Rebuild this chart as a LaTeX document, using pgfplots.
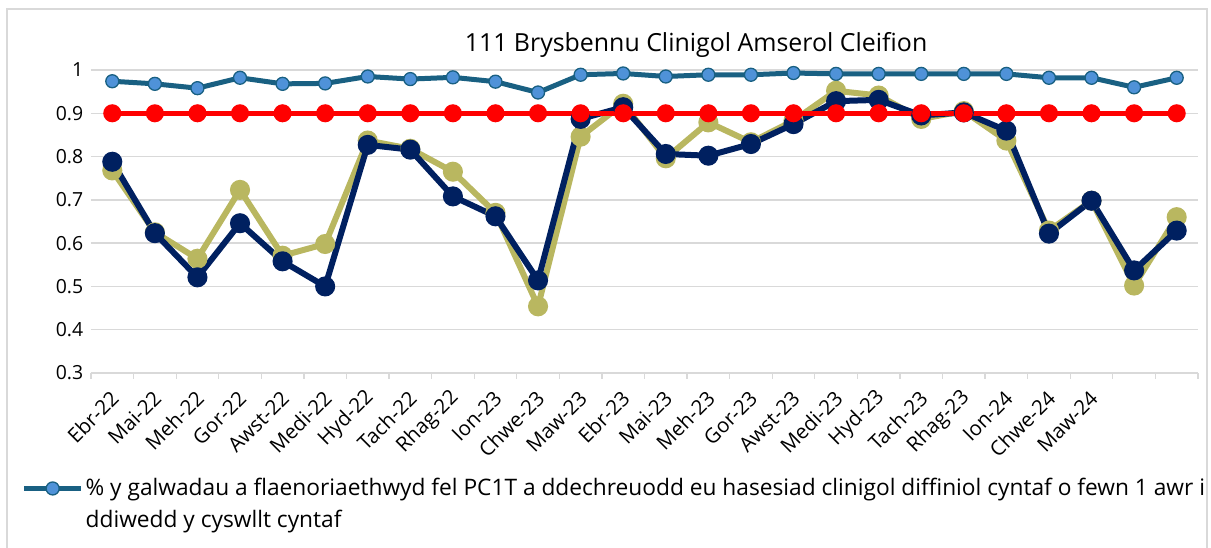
\documentclass[border=0pt]{standalone}
\usepackage{pgfplots}
\pgfplotsset{compat=1.18}
\usepackage{fontspec}
\setmainfont{Open Sans}
\definecolor{teal1}{RGB}{25,96,130}
\definecolor{bluefill}{RGB}{79,146,216}
\definecolor{olive1}{RGB}{185,183,96}
\definecolor{navy1}{RGB}{0,32,96}
\definecolor{gridc}{RGB}{217,217,217}
\begin{document}
\begin{tikzpicture}[x=1bp,y=1bp]
\path[use as bounding box] (-91,-175) rectangle (1120,373);
\draw[gridc, line width=1.5bp] (-84,-200) -- (-84,364) -- (1116,364) -- (1116,-200);
\node[anchor=base, font=\fontsize{25}{30}\selectfont] at (605,321) {111 Brysbennu Clinigol Amserol Cleifion};
\begin{axis}[
  at={(0,0)}, anchor=south west,
  scale only axis, width=1107bp, height=303bp,
  xmin=-0.5, xmax=25.5, ymin=0.3, ymax=1,
  ytick={0.3,0.4,0.5,0.6,0.7,0.8,0.9,1},
  yticklabels={0.3,0.4,0.5,0.6,0.7,0.8,0.9,1},
  ymajorgrids, grid style={gridc, line width=1.3bp},
  axis x line*=bottom, axis y line*=left,
  x axis line style={gridc, line width=1.3bp, -},
  y axis line style={draw=none},
  xtick={0,...,23},
  xticklabels={Ebr-22,Mai-22,Meh-22,Gor-22,Awst-22,Medi-22,Hyd-22,Tach-22,Rhag-22,Ion-23,Chwe-23,Maw-23,Ebr-23,Mai-23,Meh-23,Gor-23,Awst-23,Medi-23,Hyd-23,Tach-23,Rhag-23,Ion-24,Chwe-24,Maw-24},
  major x tick style={draw=none},
  minor xtick={-0.5,0.5,...,25.5},
  minor x tick style={gridc, line width=1.3bp},
  minor tick length=6bp, tick align=outside,
  ytick style={draw=none},
  yticklabel style={font=\fontsize{19.5}{23}\selectfont},
  xticklabel style={xshift=5bp, yshift=-15bp, rotate=45, anchor=east, font=\fontsize{20.5}{24}\selectfont},
  legend style={at={(-0.0655,-0.333)}, anchor=north west, draw=none, fill=none,
    font=\fontsize{22.8}{32}\selectfont, cells={anchor=base west}, nodes={inner sep=2bp}},
  legend image code/.code={\draw[mark repeat=2,mark phase=2,#1] plot coordinates {(0bp,7bp) (28.5bp,7bp) (57bp,7bp)};},
]
\addplot[teal1, line width=5bp, mark=*, mark size=6.5bp, mark options={fill=bluefill, draw=teal1, line width=1.3bp}] coordinates {
(0,0.974)(1,0.968)(2,0.958)(3,0.982)(4,0.968)(5,0.969)(6,0.985)(7,0.979)(8,0.983)(9,0.973)(10,0.948)
(11,0.989)(12,0.992)(13,0.985)(14,0.989)(15,0.989)(16,0.993)(17,0.991)(18,0.991)(19,0.991)
(20,0.991)(21,0.991)(22,0.982)(23,0.982)(24,0.960)(25,0.982)};
\addlegendentry{\parbox[t]{1140bp}{\% y galwadau a flaenoriaethwyd fel PC1T a ddechreuodd eu hasesiad clinigol diffiniol cyntaf o fewn 1 awr i\\ddiwedd y cyswllt cyntaf}}
\addplot[olive1, line width=6bp, mark=*, mark size=7bp, mark options={fill=olive1, draw=olive1}, forget plot] coordinates {
(0,0.768)(1,0.625)(2,0.564)(3,0.723)(4,0.571)(5,0.598)(6,0.837)(7,0.818)(8,0.765)(9,0.670)(10,0.454)
(11,0.846)(12,0.922)(13,0.796)(14,0.879)(15,0.833)(16,0.883)(17,0.952)(18,0.941)(19,0.887)
(20,0.905)(21,0.837)(22,0.629)(23,0.698)(24,0.502)(25,0.660)};
\addplot[navy1, line width=6bp, mark=*, mark size=7bp, mark options={fill=navy1, draw=navy1}, forget plot] coordinates {
(0,0.788)(1,0.623)(2,0.521)(3,0.646)(4,0.558)(5,0.500)(6,0.827)(7,0.816)(8,0.708)(9,0.662)(10,0.514)
(11,0.887)(12,0.914)(13,0.806)(14,0.802)(15,0.829)(16,0.875)(17,0.928)(18,0.931)(19,0.895)
(20,0.902)(21,0.860)(22,0.622)(23,0.698)(24,0.537)(25,0.629)};
\addplot[red, line width=5bp, mark=*, mark size=6.5bp, mark options={fill=red, draw=red}, forget plot] coordinates {
(0,0.9)(1,0.9)(2,0.9)(3,0.9)(4,0.9)(5,0.9)(6,0.9)(7,0.9)(8,0.9)(9,0.9)(10,0.9)(11,0.9)(12,0.9)
(13,0.9)(14,0.9)(15,0.9)(16,0.9)(17,0.9)(18,0.9)(19,0.9)(20,0.9)(21,0.9)(22,0.9)(23,0.9)(24,0.9)(25,0.9)};
\end{axis}
\end{tikzpicture}
\end{document}
